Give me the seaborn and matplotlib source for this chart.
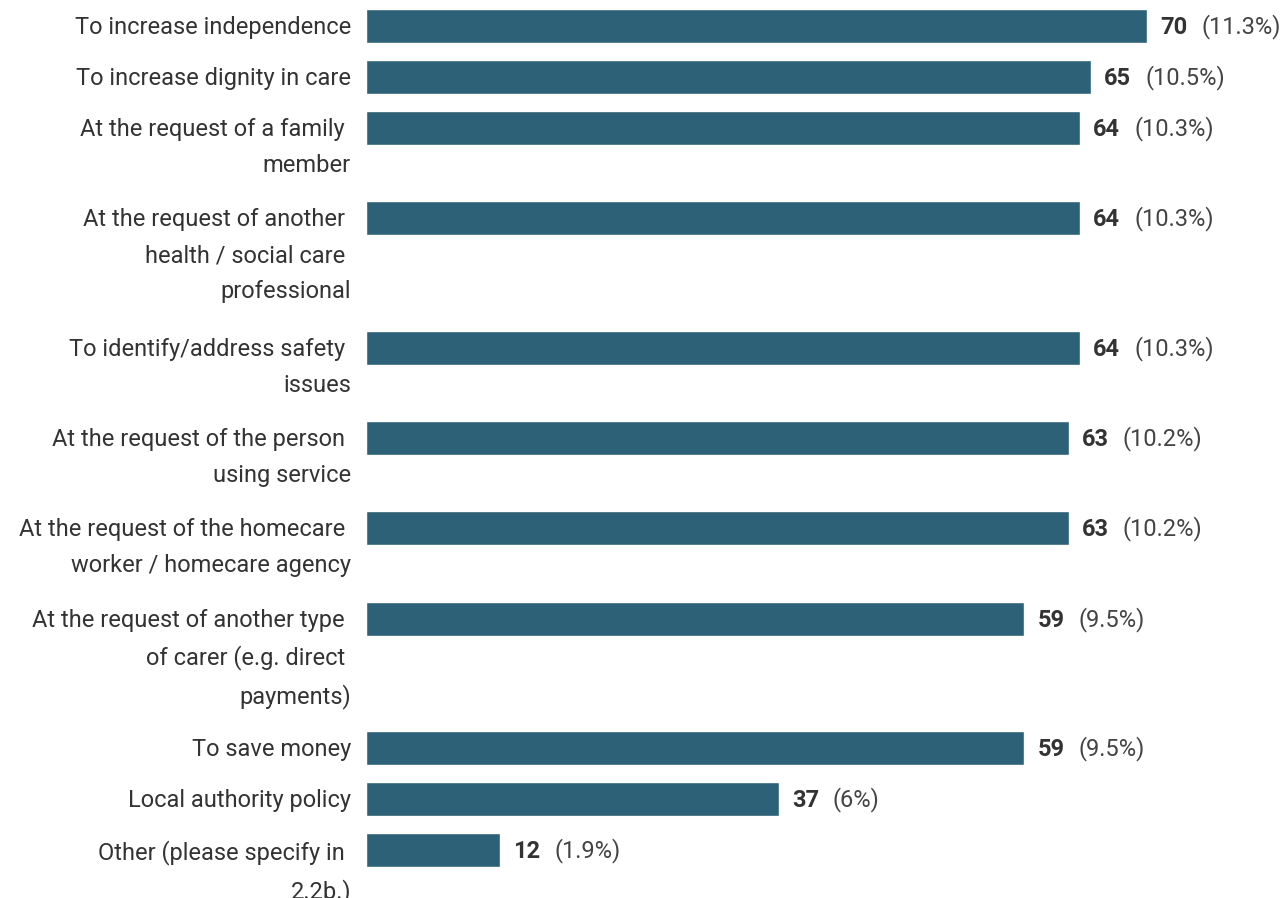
import matplotlib.pyplot as plt
import seaborn as sns
import pandas as pd

reasons = [
    "To increase independence",
    "To increase dignity in care",
    "At the request of a family \nmember",
    "At the request of another \nhealth / social care \nprofessional",
    "To identify/address safety \nissues",
    "At the request of the person \nusing service",
    "At the request of the homecare \nworker / homecare agency",
    "At the request of another type \nof carer (e.g. direct \npayments)",
    "To save money",
    "Local authority policy",
    "Other (please specify in \n2.2b.)",
]
counts = [70, 65, 64, 64, 64, 63, 63, 59, 59, 37, 12]
shares = ["11.3%", "10.5%", "10.3%", "10.3%", "10.3%", "10.2%", "10.2%",
          "9.5%", "9.5%", "6%", "1.9%"]

# rows with wrapped labels take more room
pos = [0.0]
for r in reasons[:-1]:
    pos.append(pos[-1] + 1 + 0.77 * r.count("\n"))

df = pd.DataFrame({"reason": reasons, "count": counts, "share": shares, "pos": pos})

sns.set_style("white")
plt.rcParams['font.family'] = ['Roboto', 'DejaVu Sans']

bar_color = "#2d6178"
text_color = "#333333"

fig = plt.figure(figsize=(12.83, 8.98), dpi=100)
ax = fig.add_axes([366 / 1283, 0, 917 / 1283, 1])

sns.barplot(data=df, x="count", y="pos", orient="y", native_scale=True,
            color=bar_color, saturation=1, width=34 / 51, ax=ax)

ax.set_xlim(0, 917 / 11.157)
ax.set_ylim((898 - 26) / 51, -26 / 51)
ax.axis("off")

fs = 17
for _, row in df.iterrows():
    ax.annotate(row["reason"], xy=(0, row["pos"]), xytext=(-15, 10),
                textcoords="offset pixels", ha="right", va="top",
                multialignment="right", fontsize=fs, color=text_color,
                linespacing=1.72, annotation_clip=False)
    num = ax.annotate(str(row["count"]), xy=(row["count"], row["pos"]),
                      xytext=(13, -8), textcoords="offset pixels",
                      ha="left", va="baseline", fontsize=fs,
                      fontweight="bold", color=text_color,
                      annotation_clip=False)
    ax.annotate("(" + row["share"] + ")", xy=(1, 0), xycoords=num,
                xytext=(14, 0), textcoords="offset pixels",
                ha="left", va="bottom", fontsize=fs, color="#444444",
                annotation_clip=False)

plt.savefig("out.png", dpi=100)
